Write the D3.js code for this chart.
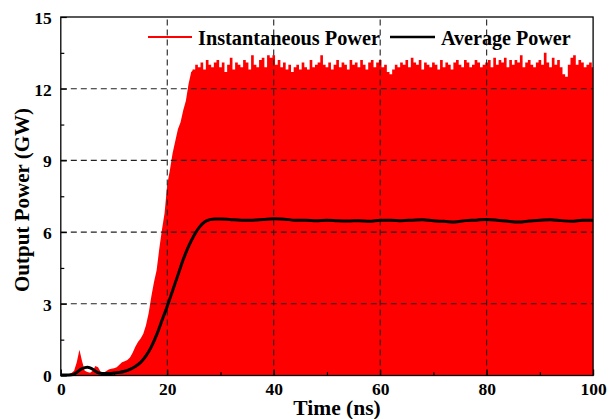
<!DOCTYPE html>
<html><head><meta charset="utf-8">
<script src="https://cdn.jsdelivr.net/npm/d3@7"></script>
<style>body{margin:0;background:#fff}svg{display:block}text{font-family:"Liberation Serif","Times New Roman",serif;font-weight:bold;fill:#000}</style>
</head><body>
<svg id="c" width="616" height="419"></svg>
<script>
// ---- data ----
const instStart = 0, instStep = 0.5; // sampling grid of the instantaneous-power envelope (ns)
const instPower = [
 0,0,0,0.05,0.1,0.2,0.55,1.08,0.6,0.2,
 0.15,0.12,0.2,0.4,0.35,0.15,0.12,0.18,0.25,0.28,
 0.3,0.35,0.45,0.55,0.6,0.65,0.75,0.95,1.2,1.4,
 1.55,1.75,2.1,2.6,3.3,3.9,4.4,5.3,6.1,6.8,
 8.0,8.6,9.3,9.8,10.3,10.6,11.1,11.5,12.2,12.7,
 12.8,13.0,12.9,13.1,12.8,13.2,13.0,12.9,13.1,13.2,
 12.9,13.1,12.7,13.0,13.3,12.8,13.1,13.0,12.9,13.2,
 13.1,12.8,13.4,13.0,12.9,13.2,13.3,12.9,13.4,13.3,
 13.4,13.0,13.2,12.9,13.1,12.8,13.0,12.7,12.9,13.0,
 12.8,13.1,12.9,12.8,13.2,12.9,13.0,13.1,13.4,13.0,
 12.9,13.1,12.8,13.0,13.2,12.9,13.1,13.0,12.8,13.2,
 13.0,13.1,12.9,13.2,13.0,12.8,13.1,13.2,12.9,13.1,
 13.2,12.9,13.0,12.7,12.6,12.8,13.0,12.9,13.1,13.0,
 13.2,12.9,13.3,13.1,13.0,13.2,12.8,13.1,13.0,12.9,
 13.1,13.0,12.8,13.2,12.9,13.1,13.0,12.8,13.1,13.2,
 13.0,12.9,13.2,13.1,12.9,13.0,13.2,13.1,12.9,13.0,
 13.1,13.2,12.9,13.3,13.0,13.2,13.1,13.3,12.9,13.2,
 13.0,13.2,13.1,13.4,12.9,13.1,13.2,13.0,12.9,13.1,
 13.2,13.0,13.5,13.1,12.9,13.3,13.0,13.2,12.9,12.6,
 12.5,13.0,13.3,13.4,13.0,13.2,13.1,12.9,13.0,13.1,
 12.9
];
const avgTime = [0,1,2,2.5,3,3.5,4,4.5,5,5.5,6,6.5,7,7.5,8,9,10,11,12,13,14,15,16,17,18,19,20,21,22,23,24,25,26,27,28,29,30,
 32,34,36,38,40,42,44,46,48,50,52,54,56,58,60,62,64,66,68,70,72,74,76,78,80,82,84,86,88,90,92,94,96,98,100];
const avgPower = [0.02,0.02,0.03,0.06,0.13,0.22,0.29,0.33,0.34,0.32,0.26,0.18,0.12,0.09,0.08,0.08,0.1,0.13,0.18,0.26,0.38,0.55,0.82,1.2,1.7,2.3,2.9,3.55,4.2,4.85,5.4,5.85,6.2,6.42,6.52,6.55,6.55,
 6.52,6.5,6.5,6.53,6.56,6.54,6.5,6.5,6.48,6.5,6.47,6.46,6.48,6.45,6.5,6.5,6.48,6.5,6.52,6.47,6.45,6.42,6.48,6.5,6.53,6.5,6.45,6.42,6.46,6.5,6.52,6.48,6.45,6.5,6.5];
const xMajor = [0,20,40,60,80,100];
const xMinor = [10,30,50,70,90];
const yMajor = [0,3,6,9,12,15];
const yMinor = [1.5,4.5,7.5,10.5,13.5];
const xGrid = [20,40,60,80];
const yGrid = [3,6,9,12];
const legendLabels = ["Instantaneous Power","Average Power"];
const seriesColors = ["#ff0000","#000000"];

// ---- drawing ----
const svg = d3.select("#c");
const L = 60.8, R = 593.1, T = 17, B = 375.5;
const x = d3.scaleLinear().domain([0,100]).range([L,R]);
const y = d3.scaleLinear().domain([0,15]).range([B,T]);

const inst = instPower.map((v,i)=>({t:instStart+i*instStep, p:v}));
const rise = inst.filter(d=>d.t<=25), plateau = inst.filter(d=>d.t>=24.5);
svg.append("path").datum(plateau)
  .attr("fill",seriesColors[0])
  .attr("d", d3.area().curve(d3.curveStep).x(d=>x(d.t)).y0(y(0)).y1(d=>y(d.p)));
svg.append("path").datum(rise)
  .attr("fill",seriesColors[0])
  .attr("d", d3.area().x(d=>x(d.t)).y0(y(0)).y1(d=>y(d.p)));

// grid
const g = svg.append("g").attr("stroke","#222").attr("stroke-width",1.1).attr("stroke-dasharray","6,4");
xGrid.forEach(v=>g.append("line").attr("x1",x(v)).attr("x2",x(v)).attr("y1",B).attr("y2",T));
yGrid.forEach(v=>g.append("line").attr("y1",y(v)).attr("y2",y(v)).attr("x1",L).attr("x2",R));

// average line
const avg = avgTime.map((t,i)=>({t, p:avgPower[i]}));
svg.append("path").datum(avg)
  .attr("fill","none").attr("stroke",seriesColors[1]).attr("stroke-width",3)
  .attr("stroke-linejoin","round")
  .attr("d", d3.line().curve(d3.curveMonotoneX).x(d=>x(d.t)).y(d=>y(d.p)));

// axes (inward ticks)
const fs = 17.5;
const xa = svg.append("g").attr("transform",`translate(0,${B})`)
  .call(d3.axisBottom(x).tickValues(xMajor).tickSize(-6).tickPadding(7.5).tickFormat(d3.format("d")));
const xm = svg.append("g").attr("transform",`translate(0,${B})`)
  .call(d3.axisBottom(x).tickValues(xMinor).tickSize(-3.5).tickFormat(""));
const ya = svg.append("g").attr("transform",`translate(${L},0)`)
  .call(d3.axisLeft(y).tickValues(yMajor).tickSize(-6).tickPadding(9).tickFormat(d3.format("d")));
const ym = svg.append("g").attr("transform",`translate(${L},0)`)
  .call(d3.axisLeft(y).tickValues(yMinor).tickSize(-3.5).tickFormat(""));
[xa,xm,ya,ym].forEach(a=>{a.select(".domain").remove(); a.selectAll("line").attr("stroke","#000").attr("stroke-width",1.2);});
[xa,ya].forEach(a=>a.selectAll("text").attr("font-size",fs).attr("font-family",'"Liberation Serif","Times New Roman",serif').attr("font-weight","bold"));
xa.selectAll("text").attr("dy","0.71em");
ya.selectAll("text").attr("dy","0.36em");

svg.append("rect").attr("x",L).attr("y",T).attr("width",R-L).attr("height",B-T)
  .attr("fill","none").attr("stroke","#000").attr("stroke-width",1.3);

// axis titles
svg.append("text").attr("x",337).attr("y",414.5).attr("text-anchor","middle").attr("font-size",21.5).text("Time (ns)");
svg.append("text").attr("transform","translate(29,200) rotate(-90)").attr("text-anchor","middle").attr("font-size",21).text("Output Power (GW)");

// legend
const leg = svg.append("g");
leg.append("line").attr("x1",148).attr("x2",192).attr("y1",37).attr("y2",37).attr("stroke",seriesColors[0]).attr("stroke-width",2.2);
leg.append("text").attr("x",198).attr("y",44.5).attr("font-size",20.3).text(legendLabels[0]);
leg.append("line").attr("x1",390).attr("x2",435).attr("y1",37).attr("y2",37).attr("stroke",seriesColors[1]).attr("stroke-width",2.6);
leg.append("text").attr("x",441).attr("y",44.5).attr("font-size",20.1).text(legendLabels[1]);
</script>
</body></html>
